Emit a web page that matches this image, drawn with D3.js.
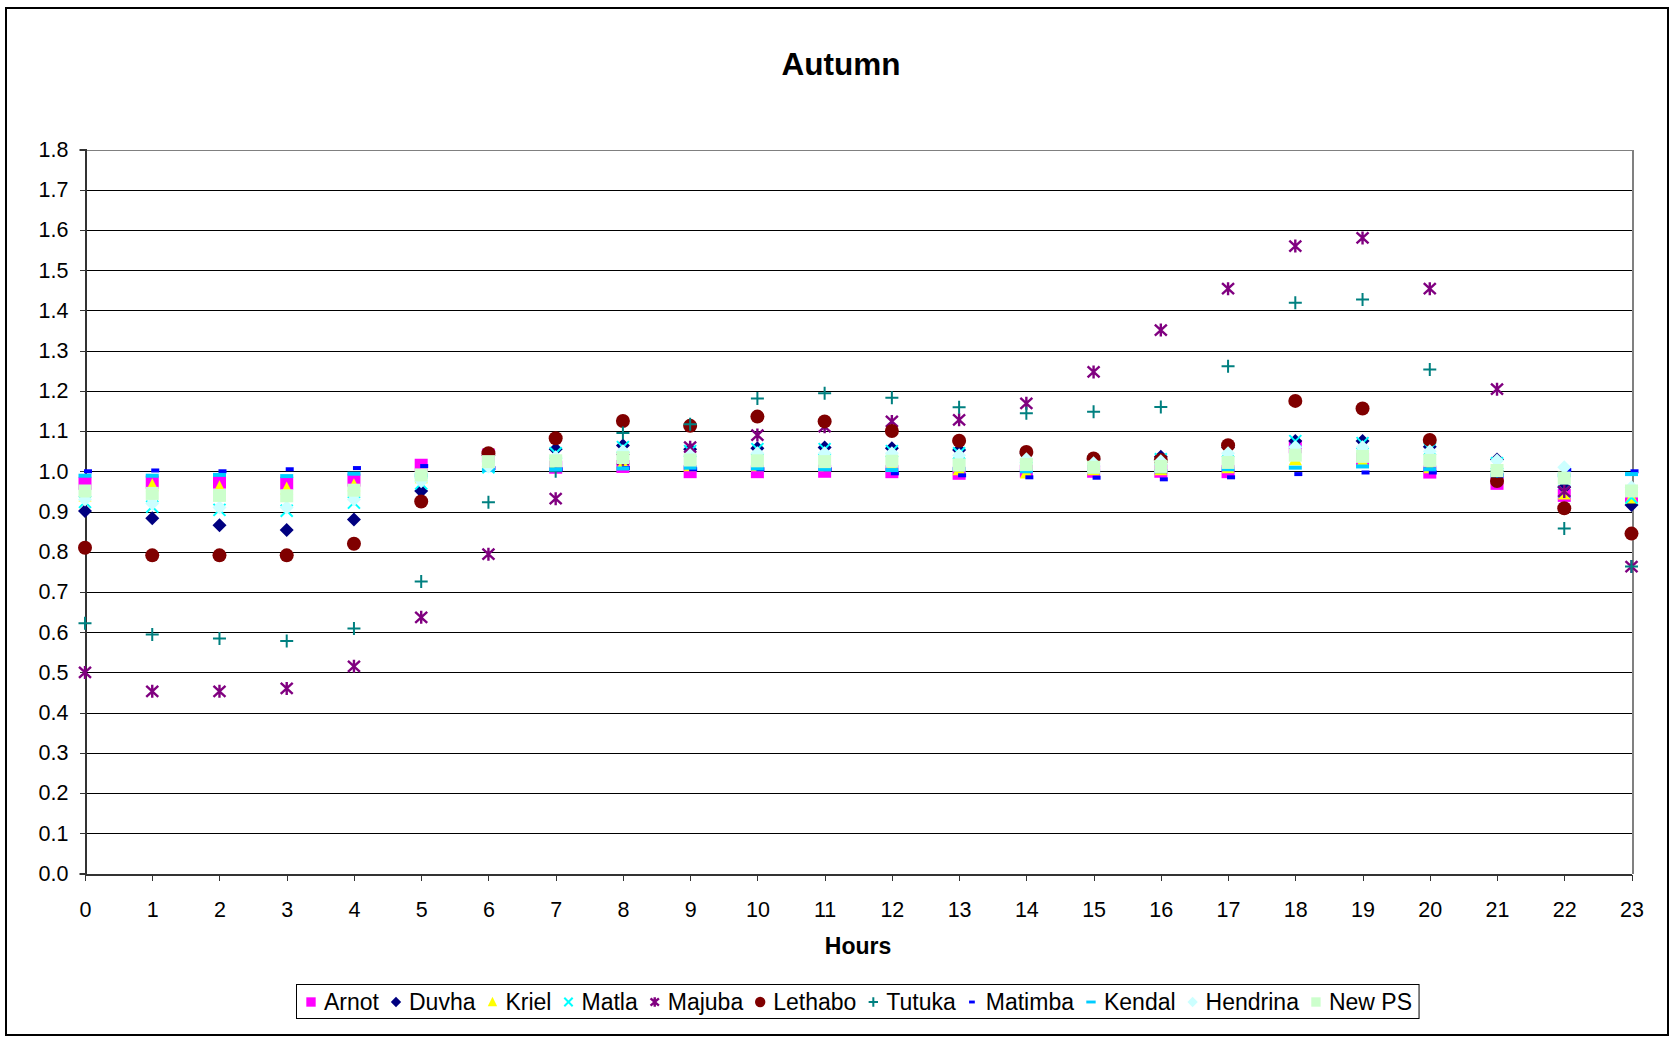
<!DOCTYPE html>
<html>
<head>
<meta charset="utf-8">
<script src="https://cdn.jsdelivr.net/npm/d3@7/dist/d3.min.js"></script>
<style>
  body { margin: 0; background: #fff; }
  text { font-family: Arial, "Liberation Sans", sans-serif; fill: #000; }
</style>
</head>
<body>
<svg id="chart" width="1675" height="1041"></svg>
<script>
// Hourly load factors per power station, autumn profile
const hours = [0, 1, 2, 3, 4, 5, 6, 7, 8, 9, 10, 11, 12, 13, 14, 15, 16, 17, 18, 19, 20, 21, 22, 23];
const yTicks = [0.0, 0.1, 0.2, 0.3, 0.4, 0.5, 0.6, 0.7, 0.8, 0.9, 1.0, 1.1, 1.2, 1.3, 1.4, 1.5, 1.6, 1.7, 1.8];

const arnot    = [0.970, 0.973, 0.973, 0.970, 0.978, 1.015, 1.040, 1.010, 1.012, 0.999, 0.999, 1.000, 0.999, 0.995, 1.000, 1.000, 1.000, 0.999, 1.061, 1.030, 0.998, 0.970, 0.940, 0.940];
const duvha    = [0.901, 0.883, 0.866, 0.854, 0.880, 0.951, 1.040, 1.055, 1.064, 1.055, 1.057, 1.059, 1.057, 1.053, 1.045, 1.030, 1.036, 1.060, 1.075, 1.075, 1.061, 1.029, 0.960, 0.916];
const kriel    = [0.940, 0.965, 0.960, 0.957, 0.965, 0.985, 1.020, 1.020, 1.020, 1.015, 1.015, 1.015, 1.015, 1.005, 0.997, 1.005, 1.005, 1.010, 1.030, 1.025, 1.010, 0.990, 0.945, 0.935];
const matla    = [0.924, 0.912, 0.904, 0.902, 0.922, 0.970, 1.010, 1.045, 1.060, 1.050, 1.055, 1.055, 1.050, 1.045, 1.035, 1.025, 1.030, 1.050, 1.075, 1.070, 1.055, 1.020, 0.950, 0.935];
const majuba   = [0.500, 0.453, 0.453, 0.460, 0.515, 0.637, 0.794, 0.932, 1.030, 1.060, 1.090, 1.111, 1.124, 1.128, 1.169, 1.247, 1.351, 1.454, 1.560, 1.580, 1.454, 1.204, 0.950, 0.763];
const lethabo  = [0.810, 0.791, 0.791, 0.791, 0.820, 0.925, 1.045, 1.082, 1.125, 1.113, 1.136, 1.124, 1.100, 1.076, 1.048, 1.032, 1.028, 1.065, 1.175, 1.156, 1.078, 0.976, 0.908, 0.845];
const tutuka   = [0.622, 0.594, 0.584, 0.578, 0.609, 0.726, 0.923, 1.000, 1.095, 1.117, 1.181, 1.194, 1.183, 1.159, 1.144, 1.148, 1.160, 1.261, 1.419, 1.427, 1.253, 1.000, 0.858, 0.763];
const matimba  = [1.000, 1.002, 1.000, 1.005, 1.008, 1.013, 1.008, 1.005, 1.008, 1.005, 1.005, 1.005, 0.995, 0.990, 0.985, 0.984, 0.980, 0.985, 0.993, 0.997, 0.997, 0.990, 1.003, 1.000];
const kendal   = [0.989, 0.989, 0.991, 0.988, 0.994, 0.990, 1.003, 1.005, 1.007, 1.009, 1.007, 1.005, 1.003, 1.005, 1.000, 1.000, 1.000, 1.005, 1.009, 1.012, 1.005, 0.990, 0.990, 0.993];
const hendrina = [0.930, 0.920, 0.910, 0.910, 0.930, 0.975, 1.012, 1.035, 1.050, 1.040, 1.045, 1.045, 1.045, 1.040, 1.030, 1.020, 1.025, 1.045, 1.060, 1.060, 1.050, 1.027, 1.010, 0.960];
const newPS    = [0.951, 0.945, 0.940, 0.939, 0.953, 0.991, 1.024, 1.026, 1.034, 1.028, 1.026, 1.024, 1.025, 1.016, 1.017, 1.010, 1.012, 1.022, 1.040, 1.037, 1.027, 1.002, 0.983, 0.951];

const seriesNames = ["Arnot", "Duvha", "Kriel", "Matla", "Majuba", "Lethabo", "Tutuka", "Matimba", "Kendal", "Hendrina", "New PS"];
const seriesValues = [arnot, duvha, kriel, matla, majuba, lethabo, tutuka, matimba, kendal, hendrina, newPS];
const seriesColors = ["#FF00FF", "#000080", "#FFFF00", "#00FFFF", "#800080", "#800000", "#008080", "#0000FF", "#00CCFF", "#CCFFFF", "#CCFFCC"];
const seriesMarkers = ["square", "diamond", "triangle", "x", "star", "circle", "plus", "shortdash", "longdash", "diamond", "square"];

// Marker shapes, drawn around (0,0); k scales them (legend uses smaller ones)
function markerPath(kind, k) {
  const s = 6.5 * k;
  switch (kind) {
    case "square":    return `M${-s},${-s}H${s}V${s}H${-s}Z`;
    case "diamond":   return `M0,${-s - 0.5}L${s + 0.5},0L0,${s + 0.5}L${-s - 0.5},0Z`;
    case "triangle":  return `M0,${-s - 0.5}L${s},${s - 0.5}L${-s},${s - 0.5}Z`;
    case "circle":    return `M${-s - 0.5},0A${s + 0.5},${s + 0.5} 0 1,0 ${s + 0.5},0A${s + 0.5},${s + 0.5} 0 1,0 ${-s - 0.5},0Z`;
    case "x":         return `M${-s + 0.5},${-s + 0.5}L${s - 0.5},${s - 0.5}M${s - 0.5},${-s + 0.5}L${-s + 0.5},${s - 0.5}`;
    case "star":      return `M${-s + 0.5},${-s + 1}L${s - 0.5},${s - 1}M${s - 0.5},${-s + 1}L${-s + 0.5},${s - 1}M0,${-s}V${s}`;
    case "plus":      return `M${-s},0H${s}M0,${-s}V${s}`;
    case "shortdash": return `M${-1 * k},${-2 * k}H${7 * k}V${2 * k}H${-1 * k}Z`;
    case "longdash":  return `M${-s},${-2 * k}H${s}V${2 * k}H${-s}Z`;
  }
}
const strokeWidths = { x: 2, star: 2.4, plus: 2 };

const svg = d3.select("#chart");
const plot = { left: 85, right: 1631.5, top: 149.5, bottom: 873.5 };

const x = d3.scaleLinear().domain([0, 23]).range([plot.left, plot.right]);
const y = d3.scaleLinear().domain([0, 1.8]).range([plot.bottom, plot.top]);

// outer frame
svg.append("rect")
  .attr("x", 6).attr("y", 8).attr("width", 1662).attr("height", 1027)
  .attr("fill", "#fff").attr("stroke", "#000").attr("stroke-width", 2);

// title
svg.append("text")
  .attr("x", 841).attr("y", 75)
  .attr("text-anchor", "middle")
  .attr("font-size", 31.5).attr("font-weight", "bold")
  .text("Autumn");

// horizontal gridlines
svg.append("g")
  .selectAll("line")
  .data(yTicks.filter(t => t > 0))
  .join("line")
  .attr("x1", plot.left).attr("x2", plot.right)
  .attr("y1", d => Math.round(y(d)) + 0.5).attr("y2", d => Math.round(y(d)) + 0.5)
  .attr("stroke", d => d === 1.8 ? "#808080" : "#000")
  .attr("stroke-width", 1)
  .attr("shape-rendering", "crispEdges");

// right plot-area border
svg.append("line")
  .attr("x1", Math.round(plot.right) + 0.5).attr("x2", Math.round(plot.right) + 0.5)
  .attr("y1", plot.top).attr("y2", plot.bottom)
  .attr("stroke", "#808080").attr("stroke-width", 2)
  .attr("shape-rendering", "crispEdges");

// y axis
const yAxis = d3.axisLeft(y)
  .tickValues(yTicks)
  .tickFormat(d3.format(".1f"))
  .tickSize(6)
  .tickPadding(11);
const gy = svg.append("g")
  .attr("transform", `translate(${Math.round(plot.left) + 0.5},0)`)
  .call(yAxis);
gy.select(".domain").attr("stroke", "#333").attr("stroke-width", 2);
gy.selectAll(".tick line").attr("stroke", "#333").attr("shape-rendering", "crispEdges");
gy.selectAll(".tick text").attr("font-size", 21.5).attr("fill", "#000")
  .attr("font-family", 'Arial, "Liberation Sans", sans-serif');

// x axis
const xAxis = d3.axisBottom(x)
  .tickValues(hours)
  .tickFormat(d3.format("d"))
  .tickSize(6)
  .tickSizeOuter(0)
  .tickPadding(21);
const gx = svg.append("g")
  .attr("transform", `translate(0,${Math.round(plot.bottom) + 0.5})`)
  .call(xAxis);
gx.select(".domain").attr("stroke", "#333").attr("stroke-width", 2);
gx.selectAll(".tick line").attr("stroke", "#333").attr("shape-rendering", "crispEdges");
gx.selectAll(".tick text").attr("font-size", 21.5).attr("fill", "#000")
  .attr("font-family", 'Arial, "Liberation Sans", sans-serif');

// x axis title
svg.append("text")
  .attr("x", 858).attr("y", 954)
  .attr("text-anchor", "middle")
  .attr("font-size", 23).attr("font-weight", "bold")
  .text("Hours");

// data markers, series in order so later ones sit on top
seriesNames.forEach((name, i) => {
  const kind = seriesMarkers[i];
  const col = seriesColors[i];
  const sw = strokeWidths[kind];
  const g = svg.append("g").attr("class", "series");
  g.selectAll("path")
    .data(hours.map((h, j) => ({ h, v: seriesValues[i][j] })))
    .join("path")
    .attr("transform", d => `translate(${x(d.h)},${y(d.v)})`)
    .attr("d", markerPath(kind, 1))
    .attr("fill", sw ? "none" : col)
    .attr("stroke", sw ? col : "none")
    .attr("stroke-width", sw || 0);
});

// legend
const legend = svg.append("g");
const legendBox = legend.append("rect")
  .attr("y", 984.5).attr("height", 34)
  .attr("fill", "#fff").attr("stroke", "#000").attr("stroke-width", 1);
const legendGap = 17;
let cursor = 311;
seriesNames.forEach((name, i) => {
  const kind = seriesMarkers[i];
  const col = seriesColors[i];
  const sw = strokeWidths[kind];
  legend.append("path")
    .attr("transform", `translate(${kind === "shortdash" ? cursor - 3 : cursor},1002)`)
    .attr("d", markerPath(kind, 0.72))
    .attr("fill", sw ? "none" : col)
    .attr("stroke", sw ? col : "none")
    .attr("stroke-width", sw || 0);
  const t = legend.append("text")
    .attr("x", cursor + 13).attr("y", 1010)
    .attr("font-size", 23)
    .text(name);
  cursor += 13 + t.node().getComputedTextLength() + legendGap;
});
legendBox.attr("x", 296.5).attr("width", cursor - legendGap + 7 - 296.5);
</script>
</body>
</html>
